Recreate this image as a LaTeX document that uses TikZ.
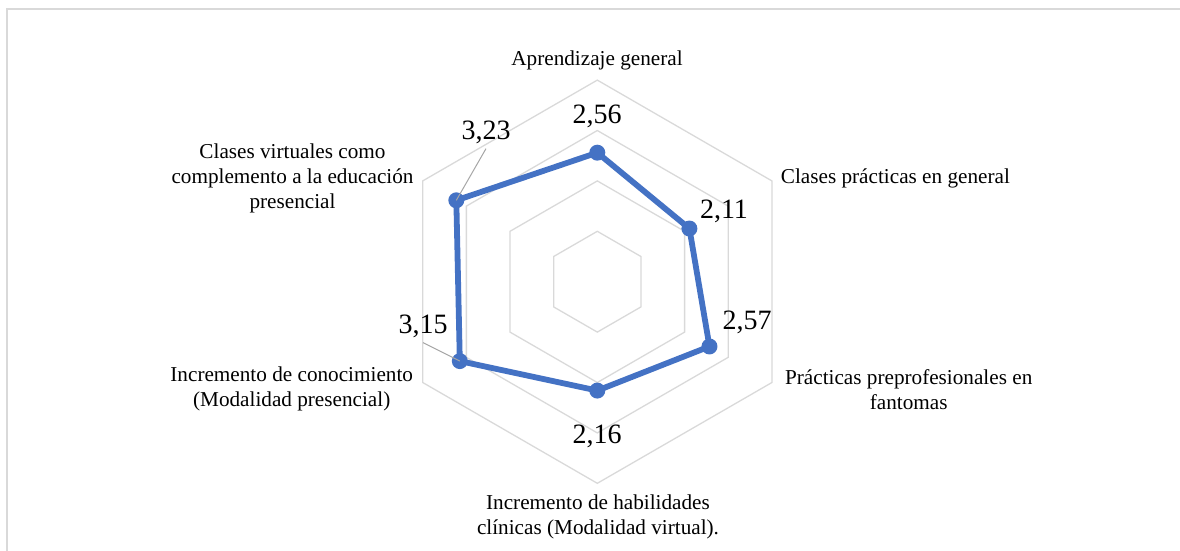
\documentclass[tikz,border=0pt]{standalone}
\usepackage{fontspec}
\setmainfont{Liberation Serif}
\definecolor{gridgray}{HTML}{D9D9D9}
\definecolor{framegray}{HTML}{D9D9D9}
\definecolor{serieblue}{HTML}{4472C4}
\definecolor{leadergray}{HTML}{A6A6A6}
\begin{document}
\begin{tikzpicture}[x=1pt,y=-1pt,
  grid/.style={draw=gridgray,line width=1.3pt},
  axislabel/.style={font=\fontsize{21.2}{25}\selectfont,inner sep=0pt,align=center},
  vallabel/.style={font=\fontsize{28}{32}\selectfont,inner sep=0pt},
  series/.style={draw=serieblue,line width=5.8pt,line join=round},
  dot/.style={circle,fill=serieblue,inner sep=0pt,minimum size=16pt},
  leader/.style={draw=leadergray,line width=1pt}]
\useasboundingbox (0,0) rectangle (1180,550);
\draw[draw=framegray,line width=1.5pt] (7,552) -- (7,9) -- (1182,9);
% grid hexagons
\foreach \k in {1,...,4}{
  \draw[grid,shift={(597.3,281.7)}] (-90:\k*50.4) -- (-30:\k*50.4) -- (30:\k*50.4) -- (90:\k*50.4) -- (150:\k*50.4) -- (210:\k*50.4) -- cycle;
}
% data
\begin{scope}[shift={(597.3,281.7)}]
\coordinate (p1) at (-90:2.56*50.4);
\coordinate (p2) at (-30:2.11*50.4);
\coordinate (p3) at (30:2.57*50.4);
\coordinate (p4) at (90:2.16*50.4);
\coordinate (p5) at (150:3.15*50.4);
\coordinate (p6) at (210:3.23*50.4);
\end{scope}
\draw[series] (p1) -- (p2) -- (p3) -- (p4) -- (p5) -- (p6) -- cycle;
\node[dot] (d1) at (p1) {};
\node[dot] (d2) at (p2) {};
\node[dot] (d3) at (p3) {};
\node[dot] (d4) at (p4) {};
\node[dot] (d5) at (p5) {};
\node[dot] (d6) at (p6) {};
% value labels
\node[vallabel] (v1) at (597,116.5) {2,56};
\node[vallabel] (v2) at (724,211) {2,11};
\node[vallabel] (v3) at (747,322.5) {2,57};
\node[vallabel] (v4) at (597,436) {2,16};
\node[vallabel] (v5) at (423,326) {3,15};
\node[vallabel] (v6) at (486,132) {3,23};
\draw[leader] ([yshift=-5pt]v6.south) -- (d6.center);
\draw[leader] ([yshift=-5pt]v5.south) -- (d5.center);
% axis labels
\node[axislabel] (a1) at (597,60) {Aprendizaje general};
\node[axislabel,anchor=west] (a2) at (780.7,178) {Clases prácticas en general};
\node[axislabel] (a3) at (908.7,389.2) {Prácticas preprofesionales en\\fantomas};
\node[axislabel] (a4) at (598,516.5) {Incremento de habilidades\\clínicas (Modalidad virtual).};
\node[axislabel] (a5) at (291.7,389.2) {Incremento de conocimiento\\(Modalidad presencial)};
\node[axislabel] (a6) at (292.5,178) {Clases virtuales como\\complemento a la educación\\presencial};
\end{tikzpicture}
\end{document}
